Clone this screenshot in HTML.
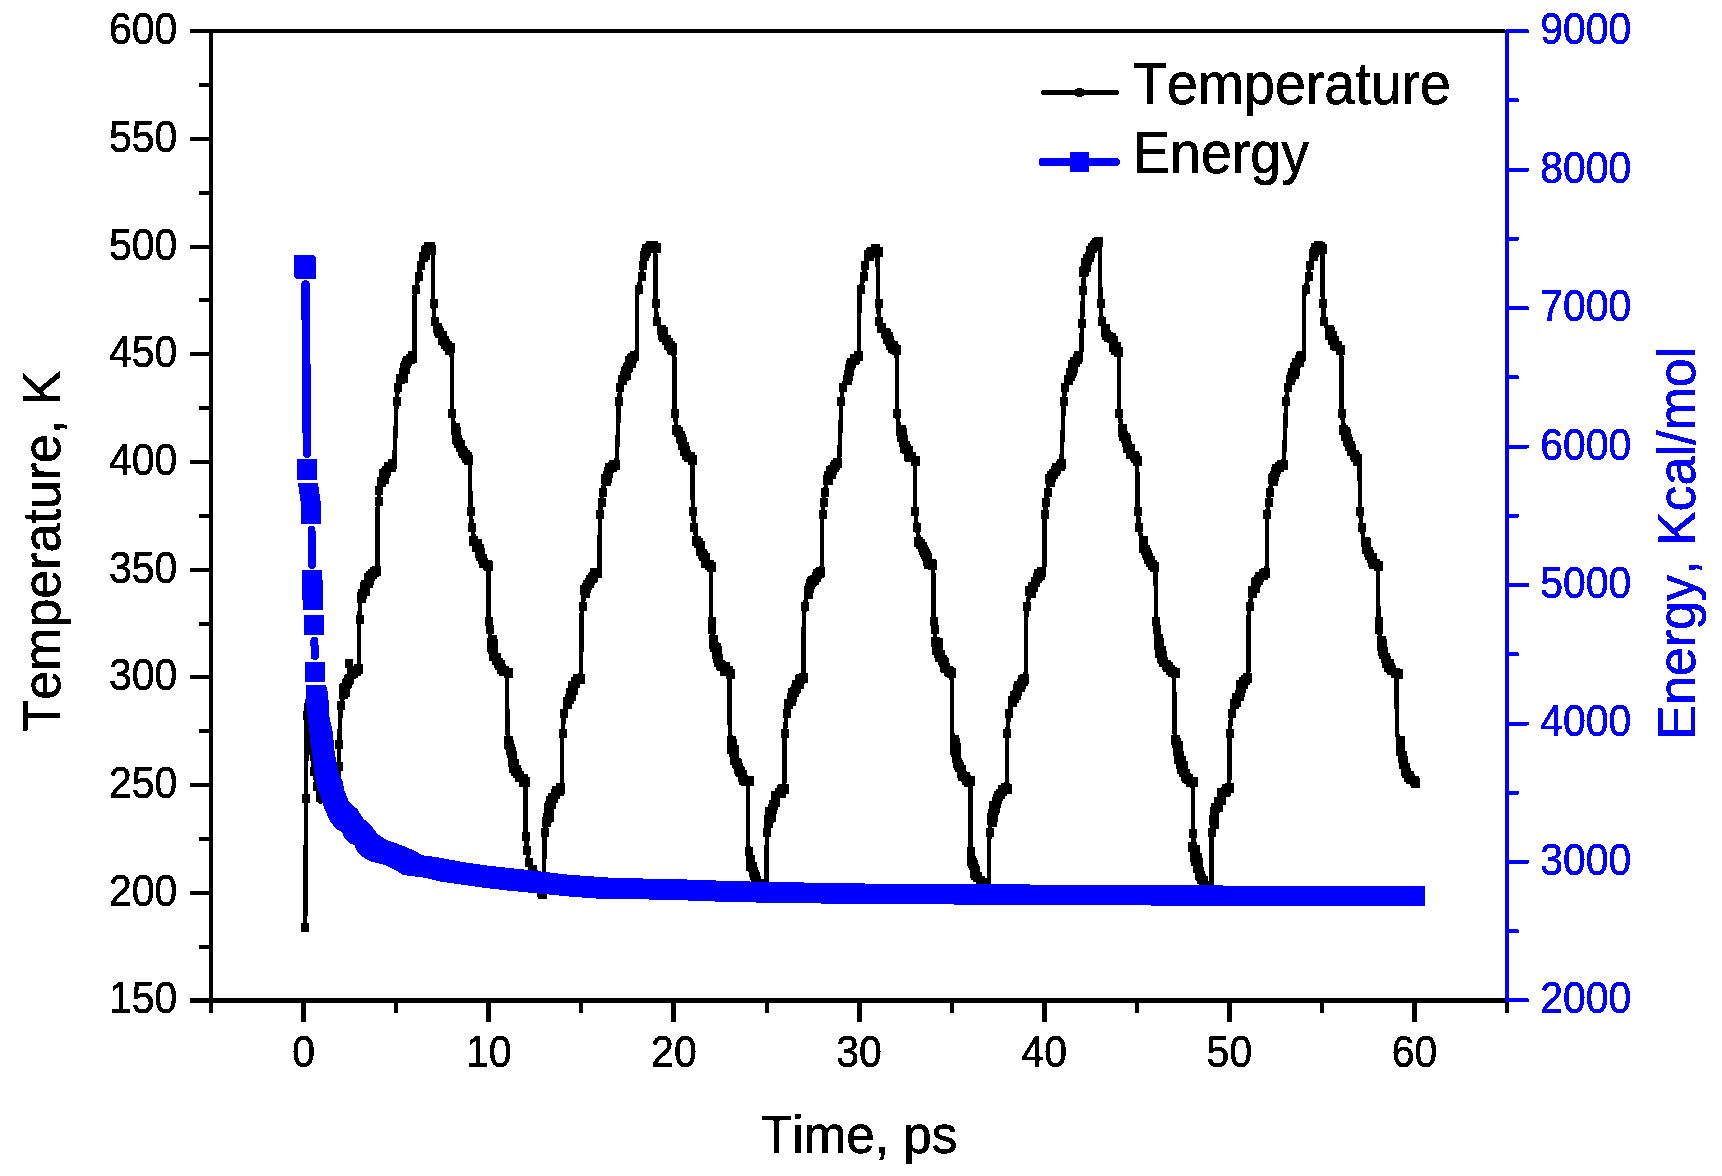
<!DOCTYPE html>
<html><head><meta charset="utf-8"><title>Temperature and Energy vs Time</title>
<style>html,body{margin:0;padding:0;background:#fff}body{width:1722px;height:1176px;overflow:hidden}svg{display:block}text{font-family:"Liberation Sans",Arial,sans-serif;font-kerning:none;font-variant-ligatures:none}</style></head><body>
<svg width="1722" height="1176" viewBox="0 0 1722 1176">
<defs><filter id="bw" x="0" y="0" width="1722" height="1176" filterUnits="userSpaceOnUse" color-interpolation-filters="sRGB"><feComponentTransfer><feFuncA type="discrete" tableValues="0 1"/></feComponentTransfer></filter></defs>
<rect width="1722" height="1176" fill="#fff"/>
<g shape-rendering="crispEdges"><polyline fill="none" stroke="#000" stroke-width="4.5" stroke-linejoin="round" stroke-linecap="butt" points="305.2,927.0 306.1,798.0 306.5,715.0 306.8,701.0 309.0,735.0 311.5,750.0 314.0,771.0 317.0,786.0 319.5,797.0 320.5,802.0 322.0,792.0 326.0,788.0 332.0,786.0 338.5,785.5 338.8,781.3 338.8,766.3 339.1,744.3 340.3,717.3 341.1,705.3 343.3,694.3 345.0,685.3 349.7,678.3 349.3,663.3 352.3,674.3 355.6,671.3 357.8,669.3 358.8,671.6 359.0,625.6 359.4,618.6 360.4,597.6 362.3,593.6 364.4,589.6 368.4,577.6 371.8,573.6 375.4,569.6 377.3,566.0 377.7,508.0 378.9,501.0 378.9,490.0 381.9,482.0 384.9,472.0 388.8,468.0 392.9,465.0 394.4,458.3 395.9,422.3 396.5,401.3 397.9,387.3 400.9,379.3 402.9,374.3 404.9,368.3 406.9,363.3 409.4,359.3 411.9,356.3 414.4,350.6 414.5,296.6 416.0,288.6 419.0,275.6 420.4,264.6 422.9,256.6 424.9,251.6 426.9,248.1 428.9,247.1 430.9,248.1 432.2,250.6 432.9,254.3 433.1,296.3 433.5,303.3 434.3,321.3 437.9,329.3 440.4,334.3 442.9,339.3 445.9,344.3 448.9,347.3 450.4,351.3 452.0,358.0 452.0,406.0 452.1,413.0 454.5,429.0 457.0,438.0 459.5,445.0 462.5,452.0 465.5,457.0 469.0,460.0 470.0,465.6 470.4,503.6 470.5,510.6 471.9,526.6 474.5,541.6 476.5,546.6 478.5,551.6 480.5,556.6 482.5,561.6 487.5,565.6 488.5,573.3 488.7,615.3 488.9,621.3 489.5,629.3 490.9,640.3 491.9,646.3 492.9,652.3 494.9,657.3 496.9,662.3 499.9,666.3 502.9,670.3 506.7,673.3 507.1,681.0 507.4,733.0 509.1,741.0 510.6,750.0 512.0,759.0 514.5,767.0 517.0,773.0 520.0,778.0 523.0,781.0 525.0,782.0 525.6,788.7 525.6,828.7 525.6,835.7 527.2,849.7 528.6,861.7 531.6,869.7 533.1,874.7 534.6,878.7 536.6,883.7 538.6,886.7 543.6,893.7 544.1,885.0 544.4,840.0 544.8,832.0 545.9,823.0 547.6,814.0 549.6,806.0 552.1,799.0 555.1,794.0 558.6,790.0 561.6,788.0 562.1,779.3 562.2,741.3 562.4,733.3 564.2,713.3 567.2,703.3 570.2,696.3 573.2,687.3 576.2,681.3 579.7,678.3 581.2,671.6 581.4,617.6 582.4,605.6 584.7,593.6 587.7,585.6 591.2,578.6 594.2,574.6 597.2,572.6 599.7,566.0 599.8,522.0 600.0,514.0 601.3,502.0 602.5,492.0 604.7,481.0 606.7,475.0 608.7,471.0 612.2,467.0 615.7,464.5 616.8,458.3 618.3,422.3 618.9,401.3 620.3,387.3 623.3,379.3 625.3,374.3 627.3,368.3 629.3,363.3 631.8,359.3 634.3,356.3 636.8,350.6 636.9,296.6 638.4,288.6 641.4,275.6 642.8,264.6 645.3,256.6 647.3,249.6 649.3,246.1 651.3,245.1 653.3,246.1 654.6,248.6 655.3,254.3 655.5,296.3 655.9,303.3 656.7,321.3 660.3,329.3 662.8,334.3 665.3,339.3 668.3,344.3 671.3,347.3 672.8,351.3 674.4,358.0 674.4,406.0 674.5,413.0 676.9,429.0 679.4,438.0 681.9,445.0 684.9,452.0 687.9,457.0 691.4,460.0 692.4,465.6 692.8,503.6 692.9,510.6 694.3,526.6 696.9,541.6 698.9,546.6 700.9,551.6 702.9,556.6 704.9,561.6 709.9,565.6 710.9,573.3 711.1,615.3 711.3,621.3 711.9,629.3 713.3,640.3 714.3,646.3 715.3,652.3 717.3,657.3 719.3,662.3 722.3,666.3 725.3,670.3 729.1,673.3 729.5,681.0 729.8,733.0 731.5,741.0 733.0,750.0 734.5,759.0 737.0,767.0 739.5,773.0 742.5,778.0 745.5,781.0 747.5,782.0 748.0,788.7 748.0,842.7 748.6,850.7 750.0,860.7 751.5,867.7 754.0,875.7 757.0,881.7 761.0,887.7 766.0,893.7 766.5,885.0 766.8,840.0 767.1,832.0 768.3,823.0 770.0,814.0 772.0,806.0 774.5,799.0 777.5,794.0 781.0,790.0 784.0,788.0 784.5,779.3 784.6,741.3 784.8,733.3 786.6,713.3 789.6,703.3 792.6,696.3 795.6,687.3 798.6,681.3 802.1,678.3 803.6,671.6 803.8,617.6 804.8,605.6 807.1,593.6 810.1,585.6 813.6,578.6 816.6,574.6 819.6,572.6 822.1,566.0 822.2,522.0 822.4,514.0 823.7,502.0 824.9,492.0 827.1,481.0 829.1,475.0 831.1,471.0 834.6,467.0 838.1,464.5 839.2,458.3 840.7,422.3 841.3,401.3 842.7,387.3 845.7,379.3 847.7,374.3 849.7,368.3 851.7,363.3 854.2,359.3 856.7,356.3 859.2,350.6 859.3,296.6 860.8,288.6 863.8,275.6 865.2,264.6 867.7,256.6 869.7,254.6 871.7,251.1 873.7,250.1 875.7,251.1 877.0,253.6 877.7,254.3 877.9,296.3 878.3,303.3 879.1,321.3 882.7,329.3 885.2,334.3 887.7,339.3 890.7,344.3 893.7,347.3 895.2,351.3 896.8,358.0 896.8,406.0 896.9,413.0 899.3,429.0 901.8,438.0 904.3,445.0 907.3,452.0 910.3,457.0 913.8,460.0 914.8,465.6 915.2,503.6 915.3,510.6 916.7,526.6 919.3,541.6 921.3,546.6 923.3,551.6 925.3,556.6 927.3,561.6 932.3,565.6 933.3,573.3 933.5,615.3 933.7,621.3 934.3,629.3 935.7,640.3 936.7,646.3 937.7,652.3 939.7,657.3 941.7,662.3 944.7,666.3 947.7,670.3 951.5,673.3 951.8,681.0 952.1,733.0 953.8,741.0 955.3,750.0 956.8,759.0 959.3,767.0 961.8,773.0 964.8,778.0 967.8,781.0 969.8,782.0 970.4,788.7 970.4,842.7 971.0,850.7 972.4,860.7 973.9,867.7 976.4,875.7 979.4,881.7 983.4,887.7 988.4,893.7 989.0,885.0 989.2,840.0 989.6,832.0 990.8,823.0 992.5,814.0 994.5,806.0 997.0,799.0 1000.0,794.0 1003.5,790.0 1006.5,788.0 1006.9,779.3 1007.0,741.3 1007.2,733.3 1009.0,713.3 1012.0,703.3 1015.0,696.3 1018.0,687.3 1021.0,681.3 1024.5,678.3 1026.0,671.6 1026.2,617.6 1027.2,605.6 1029.5,593.6 1032.5,585.6 1036.0,578.6 1039.0,574.6 1042.0,572.6 1044.5,566.0 1044.6,522.0 1044.8,514.0 1046.1,502.0 1047.3,492.0 1049.5,481.0 1051.5,475.0 1053.5,471.0 1057.0,467.0 1060.5,464.5 1061.6,458.3 1063.1,422.3 1063.7,401.3 1065.1,387.3 1068.1,379.3 1070.1,374.3 1072.1,368.3 1074.1,363.3 1076.6,359.3 1079.1,356.3 1081.6,350.6 1081.8,328.6 1082.1,322.6 1083.1,289.6 1084.1,272.6 1086.6,263.6 1089.6,255.6 1092.6,245.6 1095.6,243.6 1098.1,243.6 1099.1,241.6 1100.1,254.3 1100.3,296.3 1100.7,303.3 1101.5,321.3 1105.1,329.3 1107.6,334.3 1110.1,339.3 1113.1,344.3 1116.1,347.3 1117.6,351.3 1119.2,358.0 1119.2,406.0 1119.3,413.0 1121.7,429.0 1124.2,438.0 1126.7,445.0 1129.7,452.0 1132.7,457.0 1136.2,460.0 1137.2,465.6 1137.6,503.6 1137.7,510.6 1139.1,526.6 1141.7,541.6 1143.7,546.6 1145.7,551.6 1147.7,556.6 1149.7,561.6 1154.7,565.6 1155.7,573.3 1155.9,615.3 1156.1,621.3 1156.7,629.3 1158.1,640.3 1159.1,646.3 1160.1,652.3 1162.1,657.3 1164.1,662.3 1167.1,666.3 1170.1,670.3 1173.9,673.3 1174.2,681.0 1174.5,733.0 1176.2,741.0 1177.8,750.0 1179.2,759.0 1181.8,767.0 1184.2,773.0 1187.2,778.0 1190.2,781.0 1192.2,782.0 1192.8,788.7 1192.8,826.7 1193.1,832.7 1193.6,846.7 1195.3,856.7 1197.3,865.7 1199.8,873.7 1202.8,880.7 1206.8,887.7 1210.8,893.7 1211.3,885.0 1211.6,840.0 1211.9,832.0 1213.1,823.0 1214.8,814.0 1216.8,806.0 1219.3,799.0 1222.3,794.0 1225.8,790.0 1228.8,788.0 1229.3,779.3 1229.4,741.3 1229.6,733.3 1231.4,713.3 1234.4,703.3 1237.4,696.3 1240.4,687.3 1243.4,681.3 1246.9,678.3 1248.4,671.6 1248.6,617.6 1249.6,605.6 1251.9,593.6 1254.9,585.6 1258.4,578.6 1261.4,574.6 1264.4,572.6 1266.9,566.0 1267.0,522.0 1267.2,514.0 1268.5,502.0 1269.7,492.0 1271.9,481.0 1273.9,475.0 1275.9,471.0 1279.4,467.0 1282.9,464.5 1284.0,458.3 1285.5,422.3 1286.1,401.3 1287.5,387.3 1290.5,379.3 1292.5,374.3 1294.5,368.3 1296.5,363.3 1299.0,359.3 1301.5,356.3 1304.0,350.6 1304.1,296.6 1305.6,288.6 1308.6,275.6 1310.0,264.6 1312.5,256.6 1314.5,250.6 1316.5,247.1 1318.5,246.1 1320.5,247.1 1321.8,249.6 1322.5,254.3 1322.7,296.3 1323.1,303.3 1323.9,321.3 1327.5,329.3 1330.0,334.3 1332.5,339.3 1335.5,344.3 1338.5,347.3 1340.0,351.3 1341.6,358.0 1341.6,406.0 1341.7,413.0 1344.1,429.0 1346.6,438.0 1349.1,445.0 1352.1,452.0 1355.1,457.0 1358.6,460.0 1359.6,465.6 1360.0,503.6 1360.1,510.6 1361.5,526.6 1364.1,541.6 1366.1,546.6 1368.1,551.6 1370.1,556.6 1372.1,561.6 1377.1,565.6 1378.1,573.3 1378.3,615.3 1378.5,621.3 1379.1,629.3 1380.5,640.3 1381.5,646.3 1382.5,652.3 1384.5,657.3 1386.5,662.3 1389.5,666.3 1392.5,670.3 1396.3,673.3 1396.6,681.0 1396.9,733.0 1398.6,741.0 1400.1,750.0 1401.6,759.0 1404.1,767.0 1406.6,773.0 1409.6,778.0 1412.6,781.0 1414.6,782.0"/>
<path fill="#000" d="M301.0 922.5h8.0v9.0h-8.0zM302.0 793.5h8.0v9.0h-8.0zM303.0 710.5h8.0v9.0h-8.0zM308.0 745.5h8.0v9.0h-8.0zM310.0 766.5h8.0v9.0h-8.0zM313.0 781.5h8.0v9.0h-8.0zM316.0 792.5h8.0v9.0h-8.0zM317.5 786.0h9.0v10.0h-9.0zM321.5 782.0h9.0v10.0h-9.0zM319.5 785.0h9.0v10.0h-9.0zM326.5 781.0h9.0v10.0h-9.0zM322.5 782.0h9.0v10.0h-9.0zM324.5 781.0h9.0v10.0h-9.0zM333.5 781.0h9.0v10.0h-9.0zM328.5 780.0h9.0v10.0h-9.0zM332.5 782.0h9.0v10.0h-9.0zM335.0 761.5h8.0v9.0h-8.0zM335.0 739.5h8.0v9.0h-8.0zM337.0 700.5h8.0v9.0h-8.0zM338.5 689.0h9.0v10.0h-9.0zM341.5 679.0h9.0v10.0h-9.0zM340.5 687.0h9.0v10.0h-9.0zM338.5 684.0h9.0v10.0h-9.0zM339.5 683.0h9.0v10.0h-9.0zM344.5 674.0h9.0v10.0h-9.0zM342.5 678.0h9.0v10.0h-9.0zM343.5 675.0h9.0v10.0h-9.0zM345.0 658.5h8.0v9.0h-8.0zM346.5 669.0h9.0v10.0h-9.0zM351.5 666.0h9.0v10.0h-9.0zM348.5 668.0h9.0v10.0h-9.0zM353.5 664.0h9.0v10.0h-9.0zM356.0 614.5h8.0v9.0h-8.0zM356.5 593.0h9.0v10.0h-9.0zM357.5 589.0h9.0v10.0h-9.0zM356.5 592.0h9.0v10.0h-9.0zM360.5 584.0h9.0v10.0h-9.0zM360.5 586.0h9.0v10.0h-9.0zM363.5 573.0h9.0v10.0h-9.0zM359.5 582.0h9.0v10.0h-9.0zM360.5 580.0h9.0v10.0h-9.0zM363.5 578.0h9.0v10.0h-9.0zM364.5 575.0h9.0v10.0h-9.0zM367.5 569.0h9.0v10.0h-9.0zM365.5 571.0h9.0v10.0h-9.0zM371.5 566.0h9.0v10.0h-9.0zM369.5 567.0h9.0v10.0h-9.0zM375.0 496.5h8.0v9.0h-8.0zM375.0 485.5h8.0v9.0h-8.0zM376.5 477.0h9.0v10.0h-9.0zM380.5 468.0h9.0v10.0h-9.0zM379.5 474.0h9.0v10.0h-9.0zM378.5 472.0h9.0v10.0h-9.0zM378.5 469.0h9.0v10.0h-9.0zM383.5 462.0h9.0v10.0h-9.0zM381.5 466.0h9.0v10.0h-9.0zM387.5 459.0h9.0v10.0h-9.0zM386.5 462.0h9.0v10.0h-9.0zM393.0 396.5h8.0v9.0h-8.0zM394.0 382.5h8.0v9.0h-8.0zM395.5 374.0h9.0v10.0h-9.0zM398.5 370.0h9.0v10.0h-9.0zM398.5 373.0h9.0v10.0h-9.0zM399.5 363.0h9.0v10.0h-9.0zM398.5 368.0h9.0v10.0h-9.0zM400.5 364.0h9.0v10.0h-9.0zM401.5 358.0h9.0v10.0h-9.0zM400.5 361.0h9.0v10.0h-9.0zM405.5 354.0h9.0v10.0h-9.0zM402.5 356.0h9.0v10.0h-9.0zM407.5 351.0h9.0v10.0h-9.0zM407.5 353.0h9.0v10.0h-9.0zM412.0 284.5h8.0v9.0h-8.0zM415.0 271.5h8.0v9.0h-8.0zM417.0 260.5h8.0v9.0h-8.0zM418.5 252.0h9.0v10.0h-9.0zM420.5 246.0h9.0v10.0h-9.0zM420.5 250.0h9.0v10.0h-9.0zM423.5 244.0h9.0v10.0h-9.0zM421.5 245.0h9.0v10.0h-9.0zM423.5 242.0h9.0v10.0h-9.0zM425.5 242.0h9.0v10.0h-9.0zM426.5 245.0h9.0v10.0h-9.0zM430.0 298.5h8.0v9.0h-8.0zM431.0 316.5h8.0v9.0h-8.0zM432.5 323.0h9.0v10.0h-9.0zM434.5 328.0h9.0v10.0h-9.0zM433.5 326.0h9.0v10.0h-9.0zM437.5 335.0h9.0v10.0h-9.0zM437.5 331.0h9.0v10.0h-9.0zM440.5 339.0h9.0v10.0h-9.0zM439.5 336.0h9.0v10.0h-9.0zM445.5 343.0h9.0v10.0h-9.0zM442.5 341.0h9.0v10.0h-9.0zM444.5 345.0h9.0v10.0h-9.0zM444.5 344.0h9.0v10.0h-9.0zM448.0 408.5h8.0v9.0h-8.0zM450.5 423.0h9.0v10.0h-9.0zM451.5 434.0h9.0v10.0h-9.0zM450.5 425.0h9.0v10.0h-9.0zM451.5 427.0h9.0v10.0h-9.0zM451.5 432.0h9.0v10.0h-9.0zM455.5 440.0h9.0v10.0h-9.0zM452.5 435.0h9.0v10.0h-9.0zM453.5 438.0h9.0v10.0h-9.0zM458.5 448.0h9.0v10.0h-9.0zM455.5 442.0h9.0v10.0h-9.0zM457.5 446.0h9.0v10.0h-9.0zM461.5 453.0h9.0v10.0h-9.0zM460.5 450.0h9.0v10.0h-9.0zM463.5 455.0h9.0v10.0h-9.0zM462.5 452.0h9.0v10.0h-9.0zM467.0 506.5h8.0v9.0h-8.0zM468.0 522.5h8.0v9.0h-8.0zM468.5 536.0h9.0v10.0h-9.0zM471.5 542.0h9.0v10.0h-9.0zM472.5 539.0h9.0v10.0h-9.0zM475.5 548.0h9.0v10.0h-9.0zM474.5 544.0h9.0v10.0h-9.0zM475.5 551.0h9.0v10.0h-9.0zM474.5 548.0h9.0v10.0h-9.0zM478.5 558.0h9.0v10.0h-9.0zM477.5 554.0h9.0v10.0h-9.0zM483.5 561.0h9.0v10.0h-9.0zM478.5 558.0h9.0v10.0h-9.0zM482.5 560.0h9.0v10.0h-9.0zM485.0 616.5h8.0v9.0h-8.0zM486.0 624.5h8.0v9.0h-8.0zM487.5 635.0h9.0v10.0h-9.0zM486.5 642.0h9.0v10.0h-9.0zM486.5 638.0h9.0v10.0h-9.0zM488.5 639.0h9.0v10.0h-9.0zM488.5 648.0h9.0v10.0h-9.0zM488.5 643.0h9.0v10.0h-9.0zM487.5 644.0h9.0v10.0h-9.0zM491.5 653.0h9.0v10.0h-9.0zM488.5 651.0h9.0v10.0h-9.0zM493.5 658.0h9.0v10.0h-9.0zM491.5 655.0h9.0v10.0h-9.0zM494.5 660.0h9.0v10.0h-9.0zM495.5 660.0h9.0v10.0h-9.0zM498.5 666.0h9.0v10.0h-9.0zM496.5 664.0h9.0v10.0h-9.0zM503.5 668.0h9.0v10.0h-9.0zM499.5 666.0h9.0v10.0h-9.0zM503.5 736.0h9.0v10.0h-9.0zM505.5 745.0h9.0v10.0h-9.0zM503.5 739.0h9.0v10.0h-9.0zM504.5 740.0h9.0v10.0h-9.0zM505.5 744.0h9.0v10.0h-9.0zM507.5 755.0h9.0v10.0h-9.0zM506.5 747.0h9.0v10.0h-9.0zM506.5 748.0h9.0v10.0h-9.0zM507.5 751.0h9.0v10.0h-9.0zM508.5 763.0h9.0v10.0h-9.0zM507.5 757.0h9.0v10.0h-9.0zM509.5 759.0h9.0v10.0h-9.0zM512.5 768.0h9.0v10.0h-9.0zM511.5 765.0h9.0v10.0h-9.0zM510.5 766.0h9.0v10.0h-9.0zM514.5 772.0h9.0v10.0h-9.0zM514.5 771.0h9.0v10.0h-9.0zM518.5 777.0h9.0v10.0h-9.0zM518.5 774.0h9.0v10.0h-9.0zM520.5 777.0h9.0v10.0h-9.0zM522.0 831.5h8.0v9.0h-8.0zM523.0 845.5h8.0v9.0h-8.0zM525.0 857.5h8.0v9.0h-8.0zM527.5 865.0h9.0v10.0h-9.0zM528.5 870.0h9.0v10.0h-9.0zM527.5 868.0h9.0v10.0h-9.0zM530.5 875.0h9.0v10.0h-9.0zM530.5 871.0h9.0v10.0h-9.0zM532.5 880.0h9.0v10.0h-9.0zM532.5 875.0h9.0v10.0h-9.0zM533.5 882.0h9.0v10.0h-9.0zM531.5 880.0h9.0v10.0h-9.0zM537.5 889.0h9.0v10.0h-9.0zM536.5 885.0h9.0v10.0h-9.0zM536.5 887.0h9.0v10.0h-9.0zM541.0 827.5h8.0v9.0h-8.0zM541.5 817.0h9.0v10.0h-9.0zM544.5 810.0h9.0v10.0h-9.0zM541.5 817.0h9.0v10.0h-9.0zM542.5 813.0h9.0v10.0h-9.0zM544.5 812.0h9.0v10.0h-9.0zM544.5 801.0h9.0v10.0h-9.0zM543.5 806.0h9.0v10.0h-9.0zM543.5 803.0h9.0v10.0h-9.0zM548.5 793.0h9.0v10.0h-9.0zM546.5 799.0h9.0v10.0h-9.0zM545.5 796.0h9.0v10.0h-9.0zM550.5 789.0h9.0v10.0h-9.0zM547.5 793.0h9.0v10.0h-9.0zM554.5 786.0h9.0v10.0h-9.0zM551.5 786.0h9.0v10.0h-9.0zM555.5 784.0h9.0v10.0h-9.0zM555.5 783.0h9.0v10.0h-9.0zM559.0 728.5h8.0v9.0h-8.0zM560.0 708.5h8.0v9.0h-8.0zM562.5 699.0h9.0v10.0h-9.0zM566.5 691.0h9.0v10.0h-9.0zM562.5 697.0h9.0v10.0h-9.0zM564.5 694.0h9.0v10.0h-9.0zM567.5 681.0h9.0v10.0h-9.0zM566.5 689.0h9.0v10.0h-9.0zM565.5 688.0h9.0v10.0h-9.0zM568.5 685.0h9.0v10.0h-9.0zM570.5 677.0h9.0v10.0h-9.0zM568.5 681.0h9.0v10.0h-9.0zM570.5 678.0h9.0v10.0h-9.0zM575.5 674.0h9.0v10.0h-9.0zM572.5 674.0h9.0v10.0h-9.0zM579.0 601.5h8.0v9.0h-8.0zM580.5 588.0h9.0v10.0h-9.0zM582.5 580.0h9.0v10.0h-9.0zM579.5 585.0h9.0v10.0h-9.0zM581.5 583.0h9.0v10.0h-9.0zM587.5 573.0h9.0v10.0h-9.0zM584.5 578.0h9.0v10.0h-9.0zM585.5 575.0h9.0v10.0h-9.0zM589.5 568.0h9.0v10.0h-9.0zM588.5 572.0h9.0v10.0h-9.0zM591.5 568.0h9.0v10.0h-9.0zM592.5 568.0h9.0v10.0h-9.0zM596.0 509.5h8.0v9.0h-8.0zM598.0 497.5h8.0v9.0h-8.0zM599.0 487.5h8.0v9.0h-8.0zM601.5 476.0h9.0v10.0h-9.0zM602.5 471.0h9.0v10.0h-9.0zM600.5 474.0h9.0v10.0h-9.0zM602.5 473.0h9.0v10.0h-9.0zM603.5 467.0h9.0v10.0h-9.0zM603.5 468.0h9.0v10.0h-9.0zM607.5 462.0h9.0v10.0h-9.0zM604.5 463.0h9.0v10.0h-9.0zM610.5 460.0h9.0v10.0h-9.0zM608.5 460.0h9.0v10.0h-9.0zM615.0 396.5h8.0v9.0h-8.0zM616.0 382.5h8.0v9.0h-8.0zM617.5 375.0h9.0v10.0h-9.0zM621.5 370.0h9.0v10.0h-9.0zM619.5 371.0h9.0v10.0h-9.0zM622.5 363.0h9.0v10.0h-9.0zM620.5 367.0h9.0v10.0h-9.0zM621.5 366.0h9.0v10.0h-9.0zM626.5 358.0h9.0v10.0h-9.0zM623.5 362.0h9.0v10.0h-9.0zM626.5 354.0h9.0v10.0h-9.0zM624.5 356.0h9.0v10.0h-9.0zM629.5 351.0h9.0v10.0h-9.0zM627.5 353.0h9.0v10.0h-9.0zM635.0 284.5h8.0v9.0h-8.0zM638.0 271.5h8.0v9.0h-8.0zM639.0 260.5h8.0v9.0h-8.0zM639.5 251.0h9.0v10.0h-9.0zM641.5 244.0h9.0v10.0h-9.0zM640.5 248.0h9.0v10.0h-9.0zM641.5 246.0h9.0v10.0h-9.0zM645.5 241.0h9.0v10.0h-9.0zM644.5 243.0h9.0v10.0h-9.0zM647.5 241.0h9.0v10.0h-9.0zM648.5 241.0h9.0v10.0h-9.0zM651.5 243.0h9.0v10.0h-9.0zM652.0 298.5h8.0v9.0h-8.0zM653.0 316.5h8.0v9.0h-8.0zM656.5 325.0h9.0v10.0h-9.0zM657.5 330.0h9.0v10.0h-9.0zM658.5 327.0h9.0v10.0h-9.0zM661.5 335.0h9.0v10.0h-9.0zM658.5 332.0h9.0v10.0h-9.0zM663.5 340.0h9.0v10.0h-9.0zM663.5 338.0h9.0v10.0h-9.0zM667.5 343.0h9.0v10.0h-9.0zM665.5 341.0h9.0v10.0h-9.0zM667.5 345.0h9.0v10.0h-9.0zM666.5 344.0h9.0v10.0h-9.0zM671.0 408.5h8.0v9.0h-8.0zM671.5 425.0h9.0v10.0h-9.0zM675.5 433.0h9.0v10.0h-9.0zM673.5 427.0h9.0v10.0h-9.0zM673.5 427.0h9.0v10.0h-9.0zM675.5 431.0h9.0v10.0h-9.0zM677.5 440.0h9.0v10.0h-9.0zM676.5 434.0h9.0v10.0h-9.0zM677.5 437.0h9.0v10.0h-9.0zM679.5 446.0h9.0v10.0h-9.0zM679.5 442.0h9.0v10.0h-9.0zM680.5 446.0h9.0v10.0h-9.0zM683.5 452.0h9.0v10.0h-9.0zM681.5 450.0h9.0v10.0h-9.0zM687.5 455.0h9.0v10.0h-9.0zM685.5 452.0h9.0v10.0h-9.0zM689.0 506.5h8.0v9.0h-8.0zM690.0 522.5h8.0v9.0h-8.0zM691.5 536.0h9.0v10.0h-9.0zM695.5 541.0h9.0v10.0h-9.0zM693.5 538.0h9.0v10.0h-9.0zM695.5 546.0h9.0v10.0h-9.0zM695.5 545.0h9.0v10.0h-9.0zM698.5 551.0h9.0v10.0h-9.0zM697.5 549.0h9.0v10.0h-9.0zM700.5 556.0h9.0v10.0h-9.0zM700.5 553.0h9.0v10.0h-9.0zM706.5 562.0h9.0v10.0h-9.0zM700.5 558.0h9.0v10.0h-9.0zM704.5 560.0h9.0v10.0h-9.0zM708.0 616.5h8.0v9.0h-8.0zM708.0 624.5h8.0v9.0h-8.0zM708.5 635.0h9.0v10.0h-9.0zM709.5 642.0h9.0v10.0h-9.0zM708.5 638.0h9.0v10.0h-9.0zM708.5 639.0h9.0v10.0h-9.0zM712.5 646.0h9.0v10.0h-9.0zM711.5 643.0h9.0v10.0h-9.0zM711.5 646.0h9.0v10.0h-9.0zM712.5 653.0h9.0v10.0h-9.0zM711.5 649.0h9.0v10.0h-9.0zM713.5 657.0h9.0v10.0h-9.0zM713.5 654.0h9.0v10.0h-9.0zM716.5 661.0h9.0v10.0h-9.0zM715.5 660.0h9.0v10.0h-9.0zM719.5 666.0h9.0v10.0h-9.0zM720.5 662.0h9.0v10.0h-9.0zM725.5 669.0h9.0v10.0h-9.0zM723.5 666.0h9.0v10.0h-9.0zM726.5 736.0h9.0v10.0h-9.0zM729.5 745.0h9.0v10.0h-9.0zM726.5 738.0h9.0v10.0h-9.0zM727.5 739.0h9.0v10.0h-9.0zM726.5 744.0h9.0v10.0h-9.0zM729.5 755.0h9.0v10.0h-9.0zM728.5 747.0h9.0v10.0h-9.0zM729.5 749.0h9.0v10.0h-9.0zM729.5 753.0h9.0v10.0h-9.0zM733.5 763.0h9.0v10.0h-9.0zM731.5 758.0h9.0v10.0h-9.0zM732.5 759.0h9.0v10.0h-9.0zM735.5 767.0h9.0v10.0h-9.0zM733.5 764.0h9.0v10.0h-9.0zM734.5 766.0h9.0v10.0h-9.0zM737.5 772.0h9.0v10.0h-9.0zM737.5 770.0h9.0v10.0h-9.0zM740.5 776.0h9.0v10.0h-9.0zM738.5 775.0h9.0v10.0h-9.0zM744.5 776.0h9.0v10.0h-9.0zM745.0 846.5h8.0v9.0h-8.0zM745.5 855.0h9.0v10.0h-9.0zM747.5 862.0h9.0v10.0h-9.0zM745.5 857.0h9.0v10.0h-9.0zM745.5 861.0h9.0v10.0h-9.0zM749.5 870.0h9.0v10.0h-9.0zM748.5 867.0h9.0v10.0h-9.0zM748.5 867.0h9.0v10.0h-9.0zM751.5 876.0h9.0v10.0h-9.0zM750.5 872.0h9.0v10.0h-9.0zM750.5 874.0h9.0v10.0h-9.0zM756.5 884.0h9.0v10.0h-9.0zM754.5 879.0h9.0v10.0h-9.0zM754.5 881.0h9.0v10.0h-9.0zM761.5 888.0h9.0v10.0h-9.0zM756.5 884.0h9.0v10.0h-9.0zM761.5 886.0h9.0v10.0h-9.0zM763.0 827.5h8.0v9.0h-8.0zM763.5 818.0h9.0v10.0h-9.0zM766.5 808.0h9.0v10.0h-9.0zM763.5 815.0h9.0v10.0h-9.0zM764.5 813.0h9.0v10.0h-9.0zM766.5 812.0h9.0v10.0h-9.0zM768.5 800.0h9.0v10.0h-9.0zM764.5 807.0h9.0v10.0h-9.0zM767.5 804.0h9.0v10.0h-9.0zM770.5 793.0h9.0v10.0h-9.0zM768.5 800.0h9.0v10.0h-9.0zM770.5 797.0h9.0v10.0h-9.0zM774.5 788.0h9.0v10.0h-9.0zM770.5 791.0h9.0v10.0h-9.0zM776.5 785.0h9.0v10.0h-9.0zM776.5 788.0h9.0v10.0h-9.0zM779.5 784.0h9.0v10.0h-9.0zM777.5 784.0h9.0v10.0h-9.0zM781.0 728.5h8.0v9.0h-8.0zM783.0 708.5h8.0v9.0h-8.0zM783.5 699.0h9.0v10.0h-9.0zM787.5 692.0h9.0v10.0h-9.0zM786.5 696.0h9.0v10.0h-9.0zM786.5 693.0h9.0v10.0h-9.0zM791.5 683.0h9.0v10.0h-9.0zM787.5 688.0h9.0v10.0h-9.0zM789.5 687.0h9.0v10.0h-9.0zM790.5 684.0h9.0v10.0h-9.0zM794.5 675.0h9.0v10.0h-9.0zM791.5 680.0h9.0v10.0h-9.0zM794.5 679.0h9.0v10.0h-9.0zM798.5 673.0h9.0v10.0h-9.0zM795.5 674.0h9.0v10.0h-9.0zM801.0 601.5h8.0v9.0h-8.0zM803.5 589.0h9.0v10.0h-9.0zM805.5 579.0h9.0v10.0h-9.0zM803.5 586.0h9.0v10.0h-9.0zM804.5 583.0h9.0v10.0h-9.0zM809.5 575.0h9.0v10.0h-9.0zM806.5 577.0h9.0v10.0h-9.0zM807.5 576.0h9.0v10.0h-9.0zM812.5 569.0h9.0v10.0h-9.0zM811.5 572.0h9.0v10.0h-9.0zM815.5 567.0h9.0v10.0h-9.0zM814.5 568.0h9.0v10.0h-9.0zM819.0 509.5h8.0v9.0h-8.0zM820.0 497.5h8.0v9.0h-8.0zM821.0 487.5h8.0v9.0h-8.0zM823.5 475.0h9.0v10.0h-9.0zM823.5 471.0h9.0v10.0h-9.0zM822.5 475.0h9.0v10.0h-9.0zM823.5 471.0h9.0v10.0h-9.0zM825.5 466.0h9.0v10.0h-9.0zM826.5 469.0h9.0v10.0h-9.0zM829.5 462.0h9.0v10.0h-9.0zM827.5 465.0h9.0v10.0h-9.0zM832.5 458.0h9.0v10.0h-9.0zM830.5 460.0h9.0v10.0h-9.0zM837.0 396.5h8.0v9.0h-8.0zM839.0 382.5h8.0v9.0h-8.0zM842.5 375.0h9.0v10.0h-9.0zM843.5 370.0h9.0v10.0h-9.0zM843.5 371.0h9.0v10.0h-9.0zM844.5 364.0h9.0v10.0h-9.0zM844.5 366.0h9.0v10.0h-9.0zM844.5 365.0h9.0v10.0h-9.0zM846.5 358.0h9.0v10.0h-9.0zM845.5 360.0h9.0v10.0h-9.0zM849.5 354.0h9.0v10.0h-9.0zM849.5 355.0h9.0v10.0h-9.0zM853.5 351.0h9.0v10.0h-9.0zM850.5 354.0h9.0v10.0h-9.0zM857.0 284.5h8.0v9.0h-8.0zM860.0 271.5h8.0v9.0h-8.0zM861.0 260.5h8.0v9.0h-8.0zM864.5 251.0h9.0v10.0h-9.0zM863.5 250.0h9.0v10.0h-9.0zM866.5 247.0h9.0v10.0h-9.0zM865.5 248.0h9.0v10.0h-9.0zM870.5 244.0h9.0v10.0h-9.0zM870.5 247.0h9.0v10.0h-9.0zM873.5 247.0h9.0v10.0h-9.0zM875.0 298.5h8.0v9.0h-8.0zM875.0 316.5h8.0v9.0h-8.0zM876.5 323.0h9.0v10.0h-9.0zM881.5 329.0h9.0v10.0h-9.0zM880.5 328.0h9.0v10.0h-9.0zM882.5 334.0h9.0v10.0h-9.0zM883.5 332.0h9.0v10.0h-9.0zM885.5 340.0h9.0v10.0h-9.0zM884.5 336.0h9.0v10.0h-9.0zM887.5 343.0h9.0v10.0h-9.0zM888.5 341.0h9.0v10.0h-9.0zM891.5 345.0h9.0v10.0h-9.0zM889.5 344.0h9.0v10.0h-9.0zM893.0 408.5h8.0v9.0h-8.0zM896.5 425.0h9.0v10.0h-9.0zM896.5 432.0h9.0v10.0h-9.0zM895.5 426.0h9.0v10.0h-9.0zM897.5 428.0h9.0v10.0h-9.0zM897.5 431.0h9.0v10.0h-9.0zM900.5 441.0h9.0v10.0h-9.0zM898.5 435.0h9.0v10.0h-9.0zM898.5 437.0h9.0v10.0h-9.0zM903.5 446.0h9.0v10.0h-9.0zM899.5 443.0h9.0v10.0h-9.0zM901.5 444.0h9.0v10.0h-9.0zM904.5 452.0h9.0v10.0h-9.0zM903.5 451.0h9.0v10.0h-9.0zM910.5 456.0h9.0v10.0h-9.0zM906.5 452.0h9.0v10.0h-9.0zM911.0 506.5h8.0v9.0h-8.0zM913.0 522.5h8.0v9.0h-8.0zM913.5 537.0h9.0v10.0h-9.0zM917.5 542.0h9.0v10.0h-9.0zM915.5 539.0h9.0v10.0h-9.0zM919.5 547.0h9.0v10.0h-9.0zM918.5 545.0h9.0v10.0h-9.0zM921.5 551.0h9.0v10.0h-9.0zM920.5 549.0h9.0v10.0h-9.0zM922.5 556.0h9.0v10.0h-9.0zM922.5 553.0h9.0v10.0h-9.0zM927.5 560.0h9.0v10.0h-9.0zM923.5 559.0h9.0v10.0h-9.0zM926.5 559.0h9.0v10.0h-9.0zM930.0 616.5h8.0v9.0h-8.0zM931.0 624.5h8.0v9.0h-8.0zM930.5 637.0h9.0v10.0h-9.0zM932.5 641.0h9.0v10.0h-9.0zM932.5 638.0h9.0v10.0h-9.0zM933.5 638.0h9.0v10.0h-9.0zM933.5 648.0h9.0v10.0h-9.0zM933.5 644.0h9.0v10.0h-9.0zM931.5 645.0h9.0v10.0h-9.0zM934.5 652.0h9.0v10.0h-9.0zM935.5 650.0h9.0v10.0h-9.0zM938.5 657.0h9.0v10.0h-9.0zM937.5 655.0h9.0v10.0h-9.0zM939.5 662.0h9.0v10.0h-9.0zM939.5 658.0h9.0v10.0h-9.0zM943.5 666.0h9.0v10.0h-9.0zM940.5 663.0h9.0v10.0h-9.0zM946.5 668.0h9.0v10.0h-9.0zM944.5 667.0h9.0v10.0h-9.0zM949.5 735.0h9.0v10.0h-9.0zM949.5 745.0h9.0v10.0h-9.0zM950.5 738.0h9.0v10.0h-9.0zM949.5 740.0h9.0v10.0h-9.0zM951.5 743.0h9.0v10.0h-9.0zM951.5 753.0h9.0v10.0h-9.0zM950.5 747.0h9.0v10.0h-9.0zM951.5 749.0h9.0v10.0h-9.0zM951.5 752.0h9.0v10.0h-9.0zM954.5 762.0h9.0v10.0h-9.0zM952.5 758.0h9.0v10.0h-9.0zM953.5 760.0h9.0v10.0h-9.0zM956.5 768.0h9.0v10.0h-9.0zM956.5 765.0h9.0v10.0h-9.0zM956.5 765.0h9.0v10.0h-9.0zM960.5 772.0h9.0v10.0h-9.0zM957.5 771.0h9.0v10.0h-9.0zM963.5 777.0h9.0v10.0h-9.0zM961.5 775.0h9.0v10.0h-9.0zM965.5 776.0h9.0v10.0h-9.0zM967.0 846.5h8.0v9.0h-8.0zM966.5 856.0h9.0v10.0h-9.0zM969.5 864.0h9.0v10.0h-9.0zM967.5 858.0h9.0v10.0h-9.0zM968.5 860.0h9.0v10.0h-9.0zM970.5 870.0h9.0v10.0h-9.0zM970.5 866.0h9.0v10.0h-9.0zM969.5 868.0h9.0v10.0h-9.0zM975.5 878.0h9.0v10.0h-9.0zM972.5 872.0h9.0v10.0h-9.0zM975.5 876.0h9.0v10.0h-9.0zM978.5 882.0h9.0v10.0h-9.0zM977.5 878.0h9.0v10.0h-9.0zM978.5 881.0h9.0v10.0h-9.0zM984.5 888.0h9.0v10.0h-9.0zM981.5 884.0h9.0v10.0h-9.0zM981.5 888.0h9.0v10.0h-9.0zM986.0 827.5h8.0v9.0h-8.0zM987.5 817.0h9.0v10.0h-9.0zM987.5 809.0h9.0v10.0h-9.0zM986.5 815.0h9.0v10.0h-9.0zM986.5 813.0h9.0v10.0h-9.0zM988.5 812.0h9.0v10.0h-9.0zM988.5 801.0h9.0v10.0h-9.0zM989.5 805.0h9.0v10.0h-9.0zM990.5 803.0h9.0v10.0h-9.0zM992.5 794.0h9.0v10.0h-9.0zM991.5 798.0h9.0v10.0h-9.0zM991.5 797.0h9.0v10.0h-9.0zM995.5 789.0h9.0v10.0h-9.0zM993.5 791.0h9.0v10.0h-9.0zM997.5 785.0h9.0v10.0h-9.0zM997.5 786.0h9.0v10.0h-9.0zM1002.5 784.0h9.0v10.0h-9.0zM1000.5 783.0h9.0v10.0h-9.0zM1003.0 728.5h8.0v9.0h-8.0zM1005.0 708.5h8.0v9.0h-8.0zM1007.5 697.0h9.0v10.0h-9.0zM1009.5 691.0h9.0v10.0h-9.0zM1007.5 696.0h9.0v10.0h-9.0zM1009.5 693.0h9.0v10.0h-9.0zM1013.5 681.0h9.0v10.0h-9.0zM1011.5 690.0h9.0v10.0h-9.0zM1012.5 686.0h9.0v10.0h-9.0zM1012.5 684.0h9.0v10.0h-9.0zM1017.5 675.0h9.0v10.0h-9.0zM1015.5 682.0h9.0v10.0h-9.0zM1016.5 679.0h9.0v10.0h-9.0zM1019.5 674.0h9.0v10.0h-9.0zM1018.5 676.0h9.0v10.0h-9.0zM1023.0 601.5h8.0v9.0h-8.0zM1026.5 588.0h9.0v10.0h-9.0zM1028.5 582.0h9.0v10.0h-9.0zM1024.5 586.0h9.0v10.0h-9.0zM1027.5 582.0h9.0v10.0h-9.0zM1032.5 573.0h9.0v10.0h-9.0zM1030.5 577.0h9.0v10.0h-9.0zM1030.5 577.0h9.0v10.0h-9.0zM1033.5 569.0h9.0v10.0h-9.0zM1033.5 571.0h9.0v10.0h-9.0zM1036.5 567.0h9.0v10.0h-9.0zM1035.5 570.0h9.0v10.0h-9.0zM1041.0 509.5h8.0v9.0h-8.0zM1042.0 497.5h8.0v9.0h-8.0zM1044.0 487.5h8.0v9.0h-8.0zM1045.5 477.0h9.0v10.0h-9.0zM1046.5 471.0h9.0v10.0h-9.0zM1044.5 474.0h9.0v10.0h-9.0zM1046.5 472.0h9.0v10.0h-9.0zM1050.5 466.0h9.0v10.0h-9.0zM1048.5 469.0h9.0v10.0h-9.0zM1051.5 463.0h9.0v10.0h-9.0zM1051.5 464.0h9.0v10.0h-9.0zM1056.5 459.0h9.0v10.0h-9.0zM1055.5 461.0h9.0v10.0h-9.0zM1060.0 396.5h8.0v9.0h-8.0zM1061.0 382.5h8.0v9.0h-8.0zM1063.5 375.0h9.0v10.0h-9.0zM1065.5 368.0h9.0v10.0h-9.0zM1065.5 371.0h9.0v10.0h-9.0zM1068.5 363.0h9.0v10.0h-9.0zM1066.5 368.0h9.0v10.0h-9.0zM1067.5 366.0h9.0v10.0h-9.0zM1069.5 357.0h9.0v10.0h-9.0zM1067.5 360.0h9.0v10.0h-9.0zM1072.5 354.0h9.0v10.0h-9.0zM1070.5 357.0h9.0v10.0h-9.0zM1073.5 351.0h9.0v10.0h-9.0zM1073.5 352.0h9.0v10.0h-9.0zM1078.0 318.5h8.0v9.0h-8.0zM1079.0 285.5h8.0v9.0h-8.0zM1078.5 267.0h9.0v10.0h-9.0zM1080.5 258.0h9.0v10.0h-9.0zM1079.5 266.0h9.0v10.0h-9.0zM1081.5 262.0h9.0v10.0h-9.0zM1081.5 261.0h9.0v10.0h-9.0zM1084.5 252.0h9.0v10.0h-9.0zM1082.5 255.0h9.0v10.0h-9.0zM1082.5 254.0h9.0v10.0h-9.0zM1089.5 241.0h9.0v10.0h-9.0zM1085.5 248.0h9.0v10.0h-9.0zM1085.5 246.0h9.0v10.0h-9.0zM1087.5 243.0h9.0v10.0h-9.0zM1091.5 238.0h9.0v10.0h-9.0zM1090.5 240.0h9.0v10.0h-9.0zM1092.5 240.0h9.0v10.0h-9.0zM1093.5 237.0h9.0v10.0h-9.0zM1097.0 298.5h8.0v9.0h-8.0zM1098.0 316.5h8.0v9.0h-8.0zM1100.5 324.0h9.0v10.0h-9.0zM1101.5 330.0h9.0v10.0h-9.0zM1100.5 327.0h9.0v10.0h-9.0zM1106.5 333.0h9.0v10.0h-9.0zM1103.5 332.0h9.0v10.0h-9.0zM1108.5 340.0h9.0v10.0h-9.0zM1108.5 336.0h9.0v10.0h-9.0zM1111.5 342.0h9.0v10.0h-9.0zM1108.5 342.0h9.0v10.0h-9.0zM1113.5 347.0h9.0v10.0h-9.0zM1110.5 345.0h9.0v10.0h-9.0zM1115.0 408.5h8.0v9.0h-8.0zM1117.5 424.0h9.0v10.0h-9.0zM1120.5 433.0h9.0v10.0h-9.0zM1117.5 425.0h9.0v10.0h-9.0zM1117.5 427.0h9.0v10.0h-9.0zM1118.5 431.0h9.0v10.0h-9.0zM1122.5 441.0h9.0v10.0h-9.0zM1121.5 435.0h9.0v10.0h-9.0zM1121.5 437.0h9.0v10.0h-9.0zM1125.5 447.0h9.0v10.0h-9.0zM1122.5 443.0h9.0v10.0h-9.0zM1125.5 444.0h9.0v10.0h-9.0zM1129.5 451.0h9.0v10.0h-9.0zM1125.5 449.0h9.0v10.0h-9.0zM1132.5 456.0h9.0v10.0h-9.0zM1130.5 453.0h9.0v10.0h-9.0zM1134.0 506.5h8.0v9.0h-8.0zM1135.0 522.5h8.0v9.0h-8.0zM1138.5 536.0h9.0v10.0h-9.0zM1138.5 543.0h9.0v10.0h-9.0zM1138.5 540.0h9.0v10.0h-9.0zM1141.5 548.0h9.0v10.0h-9.0zM1140.5 545.0h9.0v10.0h-9.0zM1143.5 553.0h9.0v10.0h-9.0zM1142.5 550.0h9.0v10.0h-9.0zM1145.5 556.0h9.0v10.0h-9.0zM1143.5 554.0h9.0v10.0h-9.0zM1149.5 562.0h9.0v10.0h-9.0zM1145.5 557.0h9.0v10.0h-9.0zM1147.5 560.0h9.0v10.0h-9.0zM1152.0 616.5h8.0v9.0h-8.0zM1153.0 624.5h8.0v9.0h-8.0zM1153.5 634.0h9.0v10.0h-9.0zM1153.5 640.0h9.0v10.0h-9.0zM1154.5 638.0h9.0v10.0h-9.0zM1154.5 640.0h9.0v10.0h-9.0zM1154.5 648.0h9.0v10.0h-9.0zM1154.5 644.0h9.0v10.0h-9.0zM1156.5 646.0h9.0v10.0h-9.0zM1156.5 653.0h9.0v10.0h-9.0zM1157.5 651.0h9.0v10.0h-9.0zM1158.5 657.0h9.0v10.0h-9.0zM1157.5 654.0h9.0v10.0h-9.0zM1163.5 662.0h9.0v10.0h-9.0zM1161.5 660.0h9.0v10.0h-9.0zM1165.5 665.0h9.0v10.0h-9.0zM1162.5 662.0h9.0v10.0h-9.0zM1170.5 668.0h9.0v10.0h-9.0zM1167.5 667.0h9.0v10.0h-9.0zM1170.5 735.0h9.0v10.0h-9.0zM1172.5 746.0h9.0v10.0h-9.0zM1171.5 738.0h9.0v10.0h-9.0zM1173.5 741.0h9.0v10.0h-9.0zM1173.5 743.0h9.0v10.0h-9.0zM1173.5 754.0h9.0v10.0h-9.0zM1173.5 748.0h9.0v10.0h-9.0zM1173.5 750.0h9.0v10.0h-9.0zM1174.5 751.0h9.0v10.0h-9.0zM1178.5 761.0h9.0v10.0h-9.0zM1176.5 756.0h9.0v10.0h-9.0zM1175.5 759.0h9.0v10.0h-9.0zM1180.5 769.0h9.0v10.0h-9.0zM1176.5 764.0h9.0v10.0h-9.0zM1178.5 767.0h9.0v10.0h-9.0zM1181.5 773.0h9.0v10.0h-9.0zM1180.5 771.0h9.0v10.0h-9.0zM1185.5 777.0h9.0v10.0h-9.0zM1183.5 774.0h9.0v10.0h-9.0zM1188.5 777.0h9.0v10.0h-9.0zM1189.0 828.5h8.0v9.0h-8.0zM1187.5 842.0h9.0v10.0h-9.0zM1189.5 852.0h9.0v10.0h-9.0zM1190.5 845.0h9.0v10.0h-9.0zM1190.5 846.0h9.0v10.0h-9.0zM1190.5 849.0h9.0v10.0h-9.0zM1193.5 860.0h9.0v10.0h-9.0zM1192.5 853.0h9.0v10.0h-9.0zM1190.5 856.0h9.0v10.0h-9.0zM1193.5 858.0h9.0v10.0h-9.0zM1194.5 870.0h9.0v10.0h-9.0zM1192.5 863.0h9.0v10.0h-9.0zM1194.5 867.0h9.0v10.0h-9.0zM1198.5 876.0h9.0v10.0h-9.0zM1195.5 871.0h9.0v10.0h-9.0zM1196.5 874.0h9.0v10.0h-9.0zM1202.5 883.0h9.0v10.0h-9.0zM1198.5 878.0h9.0v10.0h-9.0zM1201.5 881.0h9.0v10.0h-9.0zM1205.5 889.0h9.0v10.0h-9.0zM1204.5 884.0h9.0v10.0h-9.0zM1204.5 886.0h9.0v10.0h-9.0zM1208.0 827.5h8.0v9.0h-8.0zM1209.5 819.0h9.0v10.0h-9.0zM1209.5 808.0h9.0v10.0h-9.0zM1208.5 815.0h9.0v10.0h-9.0zM1209.5 813.0h9.0v10.0h-9.0zM1209.5 811.0h9.0v10.0h-9.0zM1213.5 802.0h9.0v10.0h-9.0zM1209.5 807.0h9.0v10.0h-9.0zM1210.5 803.0h9.0v10.0h-9.0zM1216.5 795.0h9.0v10.0h-9.0zM1213.5 799.0h9.0v10.0h-9.0zM1213.5 797.0h9.0v10.0h-9.0zM1216.5 788.0h9.0v10.0h-9.0zM1216.5 790.0h9.0v10.0h-9.0zM1221.5 786.0h9.0v10.0h-9.0zM1220.5 787.0h9.0v10.0h-9.0zM1224.5 783.0h9.0v10.0h-9.0zM1221.5 784.0h9.0v10.0h-9.0zM1226.0 728.5h8.0v9.0h-8.0zM1228.0 708.5h8.0v9.0h-8.0zM1229.5 699.0h9.0v10.0h-9.0zM1234.5 691.0h9.0v10.0h-9.0zM1231.5 697.0h9.0v10.0h-9.0zM1231.5 693.0h9.0v10.0h-9.0zM1236.5 683.0h9.0v10.0h-9.0zM1234.5 690.0h9.0v10.0h-9.0zM1235.5 687.0h9.0v10.0h-9.0zM1235.5 684.0h9.0v10.0h-9.0zM1238.5 677.0h9.0v10.0h-9.0zM1235.5 680.0h9.0v10.0h-9.0zM1238.5 679.0h9.0v10.0h-9.0zM1242.5 673.0h9.0v10.0h-9.0zM1240.5 675.0h9.0v10.0h-9.0zM1246.0 601.5h8.0v9.0h-8.0zM1247.5 588.0h9.0v10.0h-9.0zM1250.5 582.0h9.0v10.0h-9.0zM1247.5 586.0h9.0v10.0h-9.0zM1250.5 583.0h9.0v10.0h-9.0zM1253.5 575.0h9.0v10.0h-9.0zM1250.5 578.0h9.0v10.0h-9.0zM1251.5 577.0h9.0v10.0h-9.0zM1258.5 570.0h9.0v10.0h-9.0zM1254.5 572.0h9.0v10.0h-9.0zM1260.5 568.0h9.0v10.0h-9.0zM1258.5 569.0h9.0v10.0h-9.0zM1263.0 509.5h8.0v9.0h-8.0zM1265.0 497.5h8.0v9.0h-8.0zM1266.0 487.5h8.0v9.0h-8.0zM1268.5 476.0h9.0v10.0h-9.0zM1269.5 471.0h9.0v10.0h-9.0zM1267.5 474.0h9.0v10.0h-9.0zM1268.5 473.0h9.0v10.0h-9.0zM1270.5 467.0h9.0v10.0h-9.0zM1270.5 467.0h9.0v10.0h-9.0zM1274.5 462.0h9.0v10.0h-9.0zM1271.5 464.0h9.0v10.0h-9.0zM1278.5 460.0h9.0v10.0h-9.0zM1276.5 460.0h9.0v10.0h-9.0zM1282.0 396.5h8.0v9.0h-8.0zM1284.0 382.5h8.0v9.0h-8.0zM1285.5 375.0h9.0v10.0h-9.0zM1289.5 369.0h9.0v10.0h-9.0zM1286.5 372.0h9.0v10.0h-9.0zM1289.5 363.0h9.0v10.0h-9.0zM1287.5 368.0h9.0v10.0h-9.0zM1290.5 366.0h9.0v10.0h-9.0zM1291.5 358.0h9.0v10.0h-9.0zM1290.5 362.0h9.0v10.0h-9.0zM1294.5 355.0h9.0v10.0h-9.0zM1294.5 357.0h9.0v10.0h-9.0zM1296.5 351.0h9.0v10.0h-9.0zM1295.5 352.0h9.0v10.0h-9.0zM1302.0 284.5h8.0v9.0h-8.0zM1305.0 271.5h8.0v9.0h-8.0zM1306.0 260.5h8.0v9.0h-8.0zM1308.5 251.0h9.0v10.0h-9.0zM1310.5 245.0h9.0v10.0h-9.0zM1308.5 249.0h9.0v10.0h-9.0zM1309.5 247.0h9.0v10.0h-9.0zM1310.5 243.0h9.0v10.0h-9.0zM1310.5 243.0h9.0v10.0h-9.0zM1313.5 241.0h9.0v10.0h-9.0zM1315.5 242.0h9.0v10.0h-9.0zM1317.5 244.0h9.0v10.0h-9.0zM1319.0 298.5h8.0v9.0h-8.0zM1320.0 316.5h8.0v9.0h-8.0zM1324.5 325.0h9.0v10.0h-9.0zM1324.5 330.0h9.0v10.0h-9.0zM1325.5 327.0h9.0v10.0h-9.0zM1327.5 335.0h9.0v10.0h-9.0zM1327.5 331.0h9.0v10.0h-9.0zM1329.5 340.0h9.0v10.0h-9.0zM1329.5 336.0h9.0v10.0h-9.0zM1332.5 341.0h9.0v10.0h-9.0zM1331.5 341.0h9.0v10.0h-9.0zM1335.5 345.0h9.0v10.0h-9.0zM1335.5 345.0h9.0v10.0h-9.0zM1338.0 408.5h8.0v9.0h-8.0zM1338.5 425.0h9.0v10.0h-9.0zM1342.5 434.0h9.0v10.0h-9.0zM1340.5 427.0h9.0v10.0h-9.0zM1341.5 429.0h9.0v10.0h-9.0zM1340.5 431.0h9.0v10.0h-9.0zM1344.5 441.0h9.0v10.0h-9.0zM1342.5 436.0h9.0v10.0h-9.0zM1343.5 437.0h9.0v10.0h-9.0zM1346.5 446.0h9.0v10.0h-9.0zM1345.5 441.0h9.0v10.0h-9.0zM1346.5 444.0h9.0v10.0h-9.0zM1350.5 452.0h9.0v10.0h-9.0zM1349.5 450.0h9.0v10.0h-9.0zM1352.5 456.0h9.0v10.0h-9.0zM1352.5 454.0h9.0v10.0h-9.0zM1356.0 506.5h8.0v9.0h-8.0zM1358.0 522.5h8.0v9.0h-8.0zM1360.5 537.0h9.0v10.0h-9.0zM1361.5 541.0h9.0v10.0h-9.0zM1361.5 538.0h9.0v10.0h-9.0zM1363.5 547.0h9.0v10.0h-9.0zM1361.5 544.0h9.0v10.0h-9.0zM1366.5 553.0h9.0v10.0h-9.0zM1364.5 550.0h9.0v10.0h-9.0zM1367.5 557.0h9.0v10.0h-9.0zM1367.5 553.0h9.0v10.0h-9.0zM1373.5 561.0h9.0v10.0h-9.0zM1368.5 559.0h9.0v10.0h-9.0zM1370.5 559.0h9.0v10.0h-9.0zM1375.0 616.5h8.0v9.0h-8.0zM1375.0 624.5h8.0v9.0h-8.0zM1376.5 636.0h9.0v10.0h-9.0zM1376.5 641.0h9.0v10.0h-9.0zM1376.5 637.0h9.0v10.0h-9.0zM1377.5 639.0h9.0v10.0h-9.0zM1378.5 647.0h9.0v10.0h-9.0zM1377.5 643.0h9.0v10.0h-9.0zM1377.5 646.0h9.0v10.0h-9.0zM1380.5 653.0h9.0v10.0h-9.0zM1378.5 649.0h9.0v10.0h-9.0zM1381.5 658.0h9.0v10.0h-9.0zM1381.5 656.0h9.0v10.0h-9.0zM1383.5 662.0h9.0v10.0h-9.0zM1384.5 659.0h9.0v10.0h-9.0zM1386.5 665.0h9.0v10.0h-9.0zM1385.5 663.0h9.0v10.0h-9.0zM1393.5 669.0h9.0v10.0h-9.0zM1390.5 668.0h9.0v10.0h-9.0zM1395.5 736.0h9.0v10.0h-9.0zM1395.5 745.0h9.0v10.0h-9.0zM1395.5 739.0h9.0v10.0h-9.0zM1395.5 740.0h9.0v10.0h-9.0zM1395.5 743.0h9.0v10.0h-9.0zM1397.5 753.0h9.0v10.0h-9.0zM1395.5 746.0h9.0v10.0h-9.0zM1397.5 751.0h9.0v10.0h-9.0zM1397.5 751.0h9.0v10.0h-9.0zM1400.5 763.0h9.0v10.0h-9.0zM1398.5 756.0h9.0v10.0h-9.0zM1398.5 759.0h9.0v10.0h-9.0zM1401.5 768.0h9.0v10.0h-9.0zM1400.5 765.0h9.0v10.0h-9.0zM1400.5 766.0h9.0v10.0h-9.0zM1403.5 772.0h9.0v10.0h-9.0zM1404.5 771.0h9.0v10.0h-9.0zM1409.5 776.0h9.0v10.0h-9.0zM1405.5 774.0h9.0v10.0h-9.0zM1410.5 778.0h9.0v10.0h-9.0z"/>
<polygon fill="#0000ff" points="306.1,685.0 325.9,685.0 328.2,693.3 329.4,716.6 332.9,732.9 334.6,751.5 338.1,772.5 342.1,780.0 344.5,790.5 349.1,802.1 357.3,809.1 363.1,818.4 371.3,825.4 377.1,833.6 386.4,840.0 401.5,845.2 416.7,851.6 421.3,855.1 438.8,857.5 459.8,861.5 483.1,865.0 500.0,867.0 520.0,869.1 569.7,874.8 608.0,877.5 649.8,878.7 695.0,879.7 726.5,880.9 761.3,881.8 800.0,882.3 815.0,883.0 915.0,884.0 1140.0,885.0 1305.0,886.0 1425.0,886.0 1425.0,906.0 1235.0,906.0 1066.0,905.0 841.0,904.0 800.0,903.0 764.8,902.7 723.0,901.8 691.6,900.6 656.8,899.6 601.0,898.9 569.7,896.6 534.8,893.1 508.7,890.7 483.1,887.7 459.8,884.3 438.8,881.3 424.8,877.8 402.7,874.9 395.7,870.3 383.5,864.5 371.3,861.5 364.3,858.0 357.3,852.2 354.4,845.2 350.3,843.5 344.5,838.2 342.1,832.4 336.3,828.9 329.9,821.4 324.7,809.1 320.0,795.1 317.1,786.5 314.8,774.8 312.5,757.4 310.1,739.9 309.0,728.2 306.1,703.8"/>
<polygon fill="#0000ff" points="294,255 314,255 316,258 316,279 296,279 294,276"/>
<line x1="305.5" y1="284.3" x2="307" y2="454" stroke="#0000ff" stroke-width="8.6" stroke-linecap="round"/>
<rect x="297" y="459" width="20.0" height="21.0" fill="#0000ff"/>
<polygon fill="#0000ff" points="298,483 318,483 321,505 321,524 301,524 301,505"/>
<line x1="311.5" y1="530" x2="312.2" y2="565" stroke="#0000ff" stroke-width="8" stroke-linecap="round"/>
<polygon fill="#0000ff" points="302,570 322,570 323,590 323,610 303,610 302,590"/>
<rect x="304" y="615" width="20.0" height="20.0" fill="#0000ff"/>
<line x1="314.4" y1="641" x2="314.8" y2="656" stroke="#0000ff" stroke-width="8" stroke-linecap="round"/>
<rect x="305" y="662" width="20.0" height="19.6" fill="#0000ff"/>
</g>
<g stroke="#000" stroke-width="4" fill="none" stroke-linecap="butt" shape-rendering="crispEdges">
<line x1="190.0" y1="31.2" x2="1505.2" y2="31.2"/>
<line x1="190.0" y1="1000.5" x2="1505.2" y2="1000.5" stroke-width="5"/>
<line x1="211.0" y1="31.2" x2="211.0" y2="1000.4"/>
<line x1="199.0" y1="946.6" x2="211.0" y2="946.6"/>
<line x1="190.0" y1="892.7" x2="211.0" y2="892.7"/>
<line x1="199.0" y1="838.9" x2="211.0" y2="838.9"/>
<line x1="190.0" y1="785.0" x2="211.0" y2="785.0"/>
<line x1="199.0" y1="731.2" x2="211.0" y2="731.2"/>
<line x1="190.0" y1="677.3" x2="211.0" y2="677.3"/>
<line x1="199.0" y1="623.5" x2="211.0" y2="623.5"/>
<line x1="190.0" y1="569.6" x2="211.0" y2="569.6"/>
<line x1="199.0" y1="515.8" x2="211.0" y2="515.8"/>
<line x1="190.0" y1="462.0" x2="211.0" y2="462.0"/>
<line x1="199.0" y1="408.1" x2="211.0" y2="408.1"/>
<line x1="190.0" y1="354.3" x2="211.0" y2="354.3"/>
<line x1="199.0" y1="300.4" x2="211.0" y2="300.4"/>
<line x1="190.0" y1="246.6" x2="211.0" y2="246.6"/>
<line x1="199.0" y1="192.7" x2="211.0" y2="192.7"/>
<line x1="190.0" y1="138.9" x2="211.0" y2="138.9"/>
<line x1="199.0" y1="85.0" x2="211.0" y2="85.0"/>
<line x1="211.0" y1="1000.4" x2="211.0" y2="1013"/>
<line x1="303.5" y1="1000.4" x2="303.5" y2="1021.8" stroke-width="5"/>
<line x1="396.2" y1="1000.4" x2="396.2" y2="1013"/>
<line x1="488.7" y1="1000.4" x2="488.7" y2="1021.8" stroke-width="5"/>
<line x1="581.3" y1="1000.4" x2="581.3" y2="1013"/>
<line x1="673.8" y1="1000.4" x2="673.8" y2="1021.8" stroke-width="5"/>
<line x1="766.5" y1="1000.4" x2="766.5" y2="1013"/>
<line x1="859.0" y1="1000.4" x2="859.0" y2="1021.8" stroke-width="5"/>
<line x1="951.7" y1="1000.4" x2="951.7" y2="1013"/>
<line x1="1044.2" y1="1000.4" x2="1044.2" y2="1021.8" stroke-width="5"/>
<line x1="1136.9" y1="1000.4" x2="1136.9" y2="1013"/>
<line x1="1229.3" y1="1000.4" x2="1229.3" y2="1021.8" stroke-width="5"/>
<line x1="1322.0" y1="1000.4" x2="1322.0" y2="1013"/>
<line x1="1414.5" y1="1000.4" x2="1414.5" y2="1021.8" stroke-width="5"/>
<line x1="1507.2" y1="1000.4" x2="1507.2" y2="1013"/>
</g>
<g stroke="#0000ff" stroke-width="4" fill="none" stroke-linecap="round" shape-rendering="crispEdges">
<line x1="1507.2" y1="31.2" x2="1507.2" y2="1000.4" stroke-linecap="butt"/>
<line x1="1507.2" y1="1000.4" x2="1527.2" y2="1000.4"/>
<line x1="1507.2" y1="931.2" x2="1517.2" y2="931.2"/>
<line x1="1507.2" y1="861.9" x2="1527.2" y2="861.9"/>
<line x1="1507.2" y1="792.7" x2="1517.2" y2="792.7"/>
<line x1="1507.2" y1="723.5" x2="1527.2" y2="723.5"/>
<line x1="1507.2" y1="654.3" x2="1517.2" y2="654.3"/>
<line x1="1507.2" y1="585.0" x2="1527.2" y2="585.0"/>
<line x1="1507.2" y1="515.8" x2="1517.2" y2="515.8"/>
<line x1="1507.2" y1="446.6" x2="1527.2" y2="446.6"/>
<line x1="1507.2" y1="377.3" x2="1517.2" y2="377.3"/>
<line x1="1507.2" y1="308.1" x2="1527.2" y2="308.1"/>
<line x1="1507.2" y1="238.9" x2="1517.2" y2="238.9"/>
<line x1="1507.2" y1="169.7" x2="1527.2" y2="169.7"/>
<line x1="1507.2" y1="100.4" x2="1517.2" y2="100.4"/>
<line x1="1507.2" y1="31.2" x2="1527.2" y2="31.2"/>
</g>
<g filter="url(#bw)">
<text transform="translate(177.2,1013.3) scale(0.975,1.045)" font-size="42" fill="#000" stroke="#000" stroke-width="0.6" text-anchor="end">150</text>
<text transform="translate(177.2,905.6) scale(0.975,1.045)" font-size="42" fill="#000" stroke="#000" stroke-width="0.6" text-anchor="end">200</text>
<text transform="translate(177.2,797.9) scale(0.975,1.045)" font-size="42" fill="#000" stroke="#000" stroke-width="0.6" text-anchor="end">250</text>
<text transform="translate(177.2,690.2) scale(0.975,1.045)" font-size="42" fill="#000" stroke="#000" stroke-width="0.6" text-anchor="end">300</text>
<text transform="translate(177.2,582.5) scale(0.975,1.045)" font-size="42" fill="#000" stroke="#000" stroke-width="0.6" text-anchor="end">350</text>
<text transform="translate(177.2,474.9) scale(0.975,1.045)" font-size="42" fill="#000" stroke="#000" stroke-width="0.6" text-anchor="end">400</text>
<text transform="translate(177.2,367.2) scale(0.975,1.045)" font-size="42" fill="#000" stroke="#000" stroke-width="0.6" text-anchor="end">450</text>
<text transform="translate(177.2,259.5) scale(0.975,1.045)" font-size="42" fill="#000" stroke="#000" stroke-width="0.6" text-anchor="end">500</text>
<text transform="translate(177.2,151.8) scale(0.975,1.045)" font-size="42" fill="#000" stroke="#000" stroke-width="0.6" text-anchor="end">550</text>
<text transform="translate(177.2,44.1) scale(0.975,1.045)" font-size="42" fill="#000" stroke="#000" stroke-width="0.6" text-anchor="end">600</text>
<text transform="translate(303.6,1066.8) scale(0.975,1.045)" font-size="42" fill="#000" stroke="#000" stroke-width="0.6" text-anchor="middle">0</text>
<text transform="translate(488.8,1066.8) scale(0.975,1.045)" font-size="42" fill="#000" stroke="#000" stroke-width="0.6" text-anchor="middle">10</text>
<text transform="translate(673.9,1066.8) scale(0.975,1.045)" font-size="42" fill="#000" stroke="#000" stroke-width="0.6" text-anchor="middle">20</text>
<text transform="translate(859.1,1066.8) scale(0.975,1.045)" font-size="42" fill="#000" stroke="#000" stroke-width="0.6" text-anchor="middle">30</text>
<text transform="translate(1044.3,1066.8) scale(0.975,1.045)" font-size="42" fill="#000" stroke="#000" stroke-width="0.6" text-anchor="middle">40</text>
<text transform="translate(1229.4,1066.8) scale(0.975,1.045)" font-size="42" fill="#000" stroke="#000" stroke-width="0.6" text-anchor="middle">50</text>
<text transform="translate(1414.6,1066.8) scale(0.975,1.045)" font-size="42" fill="#000" stroke="#000" stroke-width="0.6" text-anchor="middle">60</text>
<text transform="translate(1540.3,1013.3) scale(0.975,1.045)" font-size="42" fill="#0000ff" stroke="#0000ff" stroke-width="0.6" text-anchor="start">2000</text>
<text transform="translate(1540.3,874.8) scale(0.975,1.045)" font-size="42" fill="#0000ff" stroke="#0000ff" stroke-width="0.6" text-anchor="start">3000</text>
<text transform="translate(1540.3,736.4) scale(0.975,1.045)" font-size="42" fill="#0000ff" stroke="#0000ff" stroke-width="0.6" text-anchor="start">4000</text>
<text transform="translate(1540.3,597.9) scale(0.975,1.045)" font-size="42" fill="#0000ff" stroke="#0000ff" stroke-width="0.6" text-anchor="start">5000</text>
<text transform="translate(1540.3,459.5) scale(0.975,1.045)" font-size="42" fill="#0000ff" stroke="#0000ff" stroke-width="0.6" text-anchor="start">6000</text>
<text transform="translate(1540.3,321.0) scale(0.975,1.045)" font-size="42" fill="#0000ff" stroke="#0000ff" stroke-width="0.6" text-anchor="start">7000</text>
<text transform="translate(1540.3,182.6) scale(0.975,1.045)" font-size="42" fill="#0000ff" stroke="#0000ff" stroke-width="0.6" text-anchor="start">8000</text>
<text transform="translate(1540.3,44.1) scale(0.975,1.045)" font-size="42" fill="#0000ff" stroke="#0000ff" stroke-width="0.6" text-anchor="start">9000</text>
<text transform="translate(60.4,551.0) rotate(-90) scale(1,1.045)" font-size="52" fill="#000" stroke="#000" stroke-width="0.6" text-anchor="middle">Temperature, K</text>
<text transform="translate(1695.2,543.3) rotate(-90) scale(1,1.045)" font-size="52" fill="#0000ff" stroke="#0000ff" stroke-width="0.6" text-anchor="middle">Energy, Kcal/mol</text>
<text transform="translate(859.1,1152.8) scale(0.985,1.045)" font-size="52" fill="#000" stroke="#000" stroke-width="0.6" text-anchor="middle">Time, ps</text>
<line x1="1043.5" y1="92.4" x2="1116.5" y2="92.4" stroke="#000" stroke-width="5" stroke-linecap="round"/>
<rect x="1074.5" y="88.5" width="10" height="8" rx="2" fill="#000"/>
<line x1="1042.5" y1="162" x2="1116" y2="162" stroke="#0000ff" stroke-width="8" stroke-linecap="round"/>
<rect x="1070" y="152" width="19" height="20" fill="#0000ff"/>
<text transform="translate(1133.0,104.0) scale(0.992,1.045)" font-size="56" fill="#000" stroke="#000" stroke-width="0.6" text-anchor="start">Temperature</text>
<text transform="translate(1133.0,173.0) scale(0.992,1.045)" font-size="56" fill="#000" stroke="#000" stroke-width="0.6" text-anchor="start">Energy</text>
</g>
</svg></body></html>
